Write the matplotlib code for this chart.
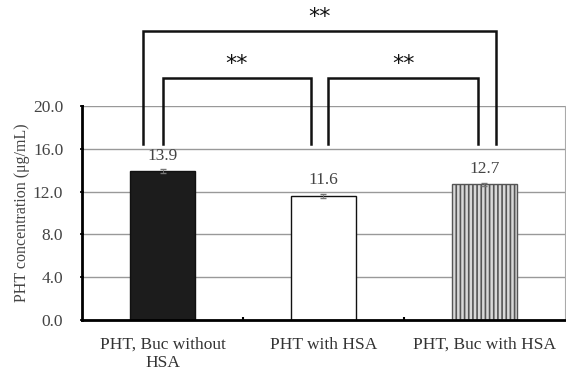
import numpy as np
import matplotlib.pyplot as plt

# data
groups = ["PHT, Buc without\nHSA", "PHT with HSA", "PHT, Buc with HSA"]
values = [13.9, 11.6, 12.7]
errors = [0.2, 0.15, 0.15]
yticks = [0.0, 4.0, 8.0, 12.0, 16.0, 20.0]

# significance brackets: (left x, right x, top y, label)
brackets = [(-0.12, 2.07, 27.0, "**"),
            (0.0, 0.92, 22.6, "**"),
            (1.03, 1.96, 22.6, "**")]
leg_bottom = 16.5

plt.rcParams['font.family'] = ['Liberation Serif', 'DejaVu Serif']

fig = plt.figure(figsize=(5.66, 3.75), dpi=100)
ax = fig.add_axes([0.145, 0.147, 0.853, 0.57])

x = np.arange(len(groups))
ax.bar(x[0], values[0], width=0.4, color="#1c1c1c", edgecolor="#111111", linewidth=1)
ax.bar(x[1], values[1], width=0.4, color="white", edgecolor="#111111", linewidth=1)
plt.rcParams['hatch.color'] = "#8a8a8a"
plt.rcParams['hatch.linewidth'] = 1.2
ax.bar(x[2], values[2], width=0.4, color="#d8d8d8", edgecolor="#555555", hatch="||||", linewidth=1)
ax.errorbar(x, values, yerr=errors, fmt="none", ecolor="#777777", capsize=2, elinewidth=0.6)

for xi, v in zip(x, values):
    ax.text(xi, v + 0.7, f"{v:.1f}", ha="center", va="bottom", fontsize=12.5, color="#444444")

ax.set_xlim(-0.5, 2.5)
ax.set_ylim(0, 20)
ax.set_yticks(yticks)
ax.set_yticklabels([f"{t:.1f}" for t in yticks], fontsize=12.5, color="#444444")
ax.set_xticks(x)
ax.set_xticklabels(groups, fontsize=12.5, color="#333333", linespacing=1.2)
ax.tick_params(axis="x", length=0, pad=12)
ax.tick_params(axis="y", length=3, width=1.2, direction="inout", pad=12)
ax.set_xticks([0.5, 1.5], minor=True)
ax.tick_params(axis="x", which="minor", length=2, width=1.5, direction="in")
ax.set_ylabel("PHT concentration (μg/mL)", fontsize=11.5, color="#444444", labelpad=2)

ax.grid(axis="y", color="#999999", linewidth=1)
ax.set_axisbelow(True)
ax.spines["top"].set_visible(False)
ax.spines["right"].set_color("#aaaaaa")
ax.spines["left"].set_linewidth(2)
ax.spines["bottom"].set_linewidth(2)

for x0, x1, top, lab in brackets:
    ax.plot([x0, x0, x1, x1], [leg_bottom, top, top, leg_bottom], color="#111111",
            linewidth=1.8, clip_on=False, solid_joinstyle="miter")
    ax.text((x0 + x1) / 2, top + 0.4, lab, ha="center", va="bottom", fontsize=16,
            family="DejaVu Sans", color="#111111")

fig.savefig("out.png", dpi=100)
